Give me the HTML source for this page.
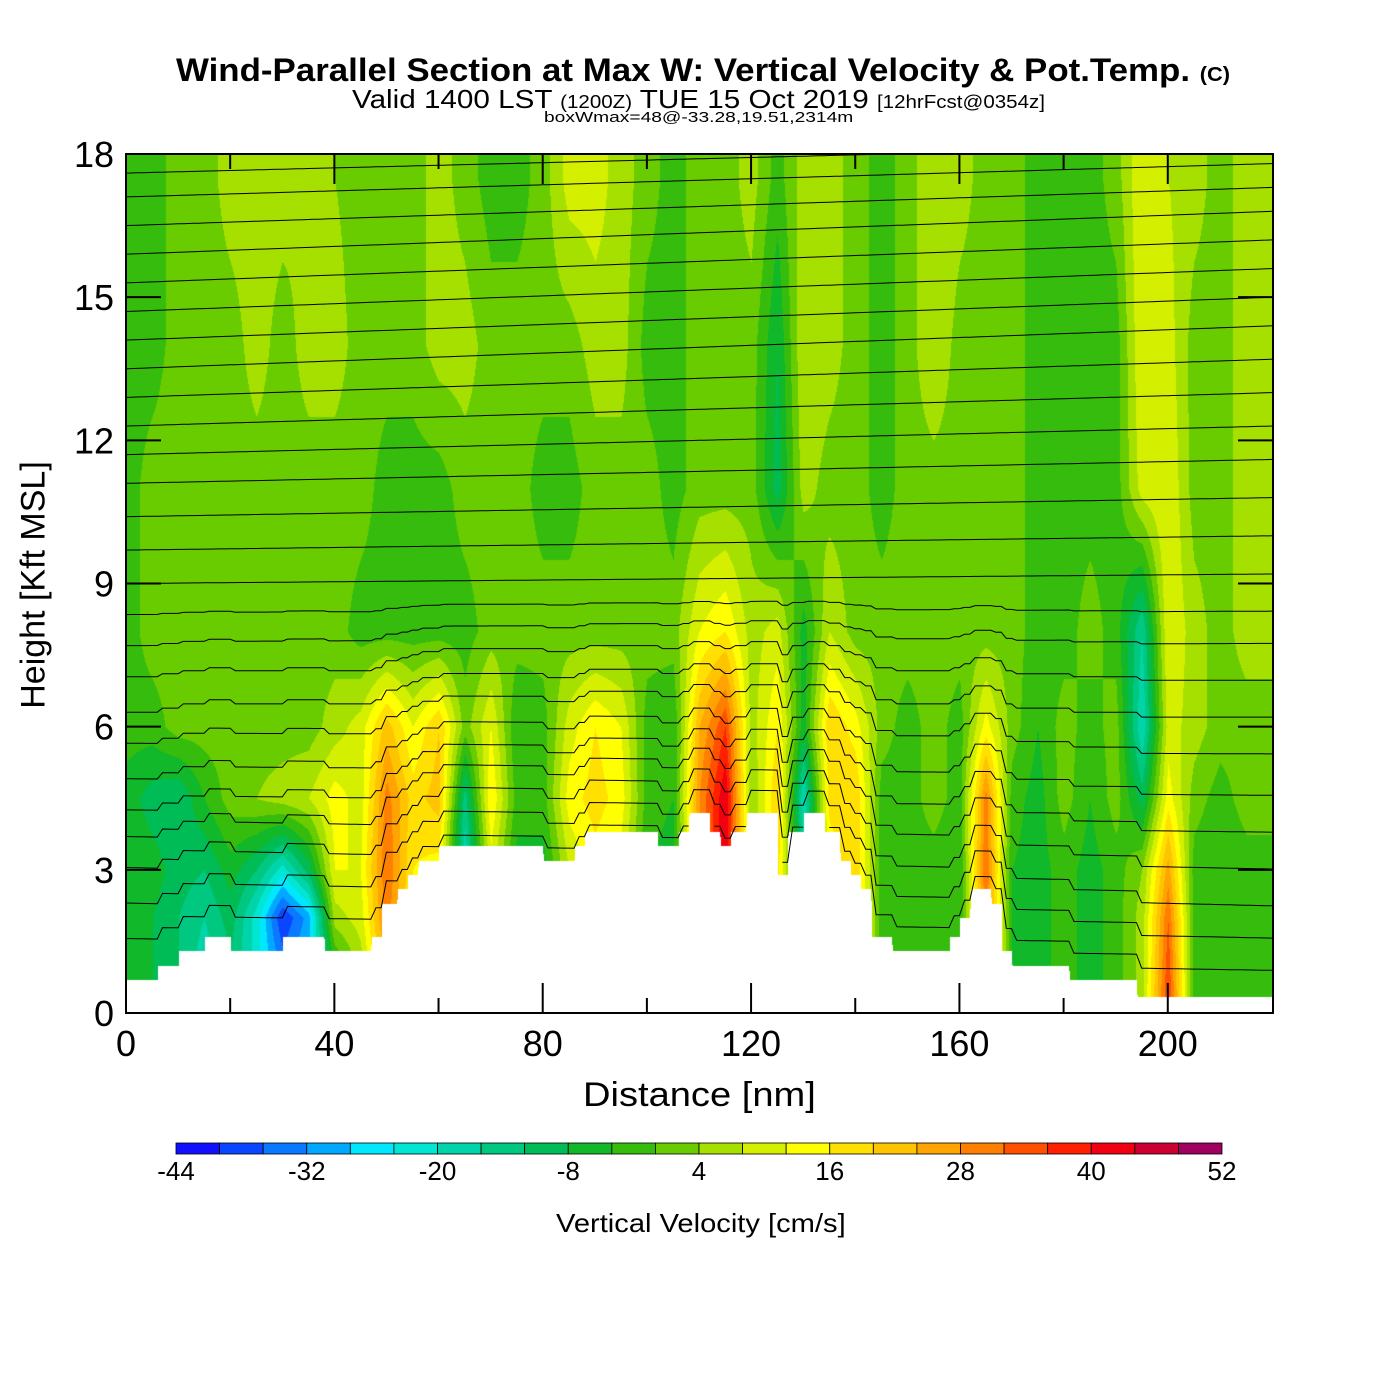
<!DOCTYPE html>
<html><head><meta charset="utf-8"><style>
body{margin:0;background:#fff;width:1400px;height:1400px;position:relative;font-family:"Liberation Sans",sans-serif;overflow:hidden}
.t{position:absolute;white-space:nowrap;color:#000;transform-origin:0 0}
canvas{position:absolute;left:126px;top:154px}
svg{position:absolute;left:0;top:0}
</style></head><body>
<div class="t" style="left:176px;top:52px;font-size:32px;font-weight:bold;transform:scaleX(1.09)">Wind-Parallel Section at Max W: Vertical Velocity &amp; Pot.Temp. <span style="font-size:20px">(C)</span></div>
<div class="t" style="left:352px;top:84px;font-size:26px;transform:scaleX(1.14)">Valid 1400 LST <span style="font-size:18px">(1200Z)</span> TUE 15 Oct 2019 <span style="font-size:18px">[12hrFcst@0354z]</span></div>
<div class="t" style="left:544px;top:109px;font-size:15px;transform:scaleX(1.28)">boxWmax=48@-33.28,19.51,2314m</div>
<canvas id="cv" width="1147" height="859"></canvas>
<svg id="sv" width="1400" height="1400"></svg>
<div class="t" style="left:34px;top:585px;font-size:34px;transform-origin:50% 50%;transform:translate(-50%,-50%) rotate(-90deg)">Height [Kft MSL]</div>
<div class="t" style="left:583px;top:1076px;font-size:34px;transform:scaleX(1.12)">Distance [nm]</div>
<div class="t" style="left:556px;top:1208px;font-size:26px;transform:scaleX(1.12)">Vertical Velocity [cm/s]</div>
<script>
const xs=[0,5,10,15,20,25,30,35,40,45,50,55,60,65,70,75,80,85,90,95,100,105,110,115,120,125,130,135,140,145,150,155,160,165,170,175,180,185,190,195,200,205,210,215,220];
const hs=[0.5,2,3,4.5,6,8,11,14,17.5];
const wRows=[
[-4,-8,-12,-20,-14,-22,-30,-26,-10,4,24,12,10,8,6,0,-2,4,8,4,-4,-6,30,40,10,16,0,12,20,-2,-2,-2,-4,30,-4,-6,-2,-6,-2,6,36,-2,-4,-2,-2],
[-4,-8,-12,-16,-10,-22,-40,-30,6,10,30,14,12,-6,8,-4,-4,6,10,4,-4,-6,28,44,8,18,-10,14,20,-2,-2,-2,-4,30,-4,-6,-2,-6,-2,6,32,-2,-4,-2,-2],
[-4,-6,-10,-12,-6,-12,-22,-10,12,12,32,16,14,-20,10,-6,-6,8,14,10,-4,-6,26,44,6,18,-14,12,20,-2,-2,-2,-4,32,-4,-6,-2,-6,-2,4,26,-2,-4,-2,-2],
[-6,-10,-12,-4,2,4,6,8,14,10,30,18,22,-14,16,-2,-2,14,18,14,-2,-4,28,44,4,20,-20,18,20,-2,-2,2,-2,30,-2,-6,2,-4,2,-10,14,2,-2,2,2],
[-2,-2,2,2,2,2,2,2,6,10,22,12,20,2,12,-4,-2,10,16,12,-2,-4,24,36,6,16,-6,20,14,2,-2,2,-2,14,2,-4,2,-2,2,-20,10,6,2,2,2],
[-2,2,2,2,2,2,2,2,2,-2,-2,-2,-2,-2,2,2,2,2,2,2,2,2,12,16,6,10,-6,8,2,2,2,2,2,2,2,-2,-2,2,-2,-16,12,6,2,6,6],
[-2,2,2,2,2,2,2,2,2,2,-2,-2,-2,2,2,2,-2,-2,2,2,2,-2,2,2,2,-10,6,2,2,-2,2,2,2,2,2,-2,-2,-2,-2,10,12,2,2,6,6],
[-2,-2,2,2,2,6,2,6,6,2,2,2,6,6,2,2,2,2,6,6,-2,-2,2,2,2,-8,8,6,2,-2,2,8,2,2,2,-2,-2,-2,-2,12,10,2,2,6,6],
[-2,-2,2,2,6,6,6,4,4,2,2,2,6,2,-2,-2,2,10,10,6,2,-2,2,2,6,-2,6,6,2,-2,2,8,6,2,2,-2,-2,-2,2,12,8,6,2,6,6]];
const terrainX=[0,6,6.1,10,10.1,15,15.1,20,20.1,30,30.1,38,38.1,47,47.1,49,49.1,52,52.1,54,54.1,56,56.1,60,60.1,80,80.1,86,86.1,88,88.1,102,102.1,106,106.1,108,108.1,112,112.1,114,114.1,116,116.1,119,119.1,125,125.1,127,127.1,130,130.1,134,134.1,137,137.1,139,139.1,141,141.1,143,143.1,147,147.1,158,158.1,160,160.1,162,162.1,166,166.1,168,168.1,170,170.1,181,181.1,194,194.1,220];
const terrainH=[0.7,0.7,1.0,1.0,1.3,1.3,1.6,1.6,1.3,1.3,1.6,1.6,1.3,1.3,1.6,1.6,2.3,2.3,2.6,2.6,2.9,2.9,3.2,3.2,3.5,3.5,3.2,3.2,3.5,3.5,3.8,3.8,3.5,3.5,3.8,3.8,4.2,4.2,3.8,3.8,3.5,3.5,3.8,3.8,4.2,4.2,2.9,2.9,3.8,3.8,4.2,4.2,3.8,3.8,3.2,3.2,2.9,2.9,2.6,2.6,1.6,1.6,1.3,1.3,1.6,1.6,2.0,2.0,2.6,2.6,2.3,2.3,1.3,1.3,1.0,1.0,0.7,0.7,0.35,0.35];
const thetaLeft=[1.0,1.8,2.6,3.3,3.9,4.6,5.4,6.1,6.9,7.6,8.3,9.0,9.7,10.4,11.1,11.7,12.3,12.9,13.5,14.1,14.7,15.3,15.9,16.5,17.1,17.6];
const thetaRight=[0.6,1.3,2.0,2.8,3.6,4.4,5.3,6.1,6.9,7.7,8.4,9.2,10.0,10.8,11.6,12.3,13.0,13.7,14.4,15.0,15.6,16.2,16.8,17.3,17.8,18.2];
const cbColors=["#1010ff","#0a46ff","#0a78ff","#00a8ff","#00e8ff","#00e6d2","#00d4a8","#00c880","#00bc56","#10b82a","#36bc0c","#68cc00","#a6e000","#d4f000","#ffff00","#ffe000","#ffc400","#ffa400","#ff8000","#ff5000","#ff2000","#f00010","#cc0030","#a00060"];
const cbTicks=[-44,-32,-20,-8,4,16,28,40,52];
const yTicks=[0,3,6,9,12,15,18];
const xTicks=[0,40,80,120,160,200];

const X0=126,X1=1273,Y0=1013,Y1=154,XMAX=220.2,YMAX=18;
const sx=v=>X0+v/XMAX*(X1-X0), sy=v=>Y0-v/YMAX*(Y0-Y1);
function interp(a,v){for(let i=0;i<a.length-1;i++){if(v<=a[i+1])return [i,(v-a[i])/(a[i+1]-a[i])];}return [a.length-2,1];}
function terr(x){const [i,t]=interp(terrainX,x);return terrainH[i]+(terrainH[i+1]-terrainH[i])*Math.max(0,Math.min(1,t));}
function colorIdx(w){return Math.max(0,Math.min(23,Math.floor((w+44)/4)));}
const rgb=cbColors.map(c=>[parseInt(c.slice(1,3),16),parseInt(c.slice(3,5),16),parseInt(c.slice(5,7),16)]);
const cv=document.getElementById('cv'),ctx=cv.getContext('2d');
const W=cv.width,H=cv.height,img=ctx.createImageData(W,H);
const tcache=[];for(let px=0;px<W;px++)tcache.push(terr(px/W*XMAX));
for(let py=0;py<H;py++){const h=(H-py)/H*YMAX;let [j,ty]=interp(hs,h);ty=Math.max(0,Math.min(1,ty));
 for(let px=0;px<W;px++){const x=px/W*XMAX;let [i,tx]=interp(xs,x);tx=Math.max(0,Math.min(1,tx));
  const w=(wRows[j][i]*(1-tx)+wRows[j][i+1]*tx)*(1-ty)+(wRows[j+1][i]*(1-tx)+wRows[j+1][i+1]*tx)*ty;
  const k=(py*W+px)*4;let c=rgb[colorIdx(w)];if(h<tcache[px])c=[255,255,255];
  img.data[k]=c[0];img.data[k+1]=c[1];img.data[k+2]=c[2];img.data[k+3]=255;}}
ctx.putImageData(img,0,0);

const NS='http://www.w3.org/2000/svg',sv=document.getElementById('sv');
function mk(tag,at,parent){const e=document.createElementNS(NS,tag);for(const k in at)e.setAttribute(k,at[k]);(parent||sv).appendChild(e);return e;}
thetaLeft.forEach((hl,n)=>{let d='';let prevT=null;
 for(let x=0;x<=XMAX;x+=1){const base=hl+(thetaRight[n]-hl)*x/XMAX;const t=terr(x);
  const h=base+t*Math.max(0,1-base/9)*0.9;if(h<t+0.05||h>YMAX){prevT=null;continue;}
  d+=(prevT===null?'M':'L')+sx(x).toFixed(1)+','+sy(h).toFixed(1);prevT=1;}
 const p=mk('path',{d:d,fill:'none',stroke:'#000','stroke-width':1});
 
 
});
const fr=mk('rect',{x:X0,y:Y1,width:X1-X0,height:Y0-Y1,fill:'none',stroke:'#000','stroke-width':2});


yTicks.forEach(v=>{const y=sy(v);
 mk('line',{x1:X0,x2:X0+35,y1:y,y2:y,stroke:'#000','stroke-width':2});
 mk('line',{x1:X1-35,x2:X1,y1:y,y2:y,stroke:'#000','stroke-width':2});
 const t=mk('text',{x:X0-12,y:y+13,'text-anchor':'end','font-size':36,'font-family':'Liberation Sans'});t.textContent=v;
 
 });
for(let v=20;v<220;v+=20){const x=sx(v);const L=v%40===0?30:15;
 mk('line',{x1:x,x2:x,y1:Y0,y2:Y0-L,stroke:'#000','stroke-width':2});
 mk('line',{x1:x,x2:x,y1:Y1,y2:Y1+L,stroke:'#000','stroke-width':2});}
xTicks.forEach(v=>{const t=mk('text',{x:sx(v),y:1056,'text-anchor':'middle','font-size':36,'font-family':'Liberation Sans'});t.textContent=v;
 
 });
const CB0=176,CB1=1222;
cbColors.forEach((c,i)=>{const w=(CB1-CB0)/24;const r=mk('rect',{x:CB0+i*w,y:1143,width:w,height:11,fill:c,stroke:'#000','stroke-width':0.8});
 
 });
cbTicks.forEach(v=>{const x=CB0+(v+44)/96*(CB1-CB0);const t=mk('text',{x:x,y:1180,'text-anchor':'middle','font-size':26,'font-family':'Liberation Sans'});t.textContent=v;
 
 });
</script>
</body></html>
